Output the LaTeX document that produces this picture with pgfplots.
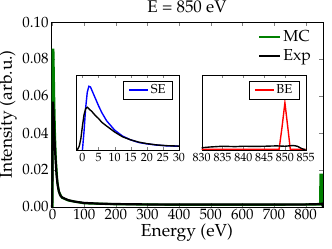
\documentclass[border=0pt]{standalone}
\usepackage[T1]{fontenc}
\usepackage{mathpazo}
\usepackage{pgfplots}
\pgfplotsset{compat=1.18}
\definecolor{mplgreen}{rgb}{0,0.5,0}

\pgfplotstableread{
x y
-2 0
-1.5 0.001
-1 0.005
-0.5 0.015
0 0.032
0.5 0.047
1 0.055
1.5 0.057
2 0.055
3 0.051
4 0.046
5 0.042
6 0.037
7.5 0.032
10 0.024
12.5 0.0175
15 0.0135
17.5 0.0105
20 0.0085
23 0.0068
26 0.0058
30 0.0052
40 0.0044
50 0.0037
70 0.0029
100 0.0022
150 0.0018
200 0.0016
300 0.0014
400 0.0013
500 0.0013
600 0.0013
700 0.0013
800 0.0014
830 0.0015
840 0.0016
848 0.0017
852 0.0018
854 0.0008
855 0.0
}\expdata

\pgfplotstableread{
x y
0 0
0.5 0.025
1 0.056
1.5 0.077
2 0.085
2.5 0.084
3 0.079
4 0.069
5 0.059
6 0.050
7.5 0.039
10 0.0265
12.5 0.0185
15 0.0135
17.5 0.0100
20 0.0082
23 0.0066
26 0.0056
30 0.0050
}\sedata

\pgfplotstableread{
x y
0 0
0.3 0.085
2.5 0.085
5 0.059
7.5 0.039
10 0.0265
15 0.0135
20 0.0082
30 0.0050
50 0.0035
100 0.0020
200 0.0015
400 0.0012
600 0.0012
800 0.0013
846 0.0013
847 0.0175
852 0.0175
853 0.0012
855 0.0012
}\mcdata

\pgfplotstableread{
x y
830 0.003
832 0.004
835 0.005
838 0.0045
840 0.005
843 0.0048
845 0.005
848 0.0055
850 0.005
852 0.006
853 0.005
854 0.002
855 0.0
}\beexp

\pgfplotstableread{
x y
830 0.0008
848.6 0.0008
849.3 0.03
850 0.063
850.7 0.03
851.3 0.0008
855 0.0008
}\bemc

\begin{document}
\begin{tikzpicture}
\useasboundingbox (-51bp,-42bp) rectangle (281bp,207bp);
\begin{axis}[at={(0,0)}, anchor=south west, scale only axis,
  width=272bp, height=185bp,
  xmin=-5, xmax=855, ymin=0, ymax=0.1,
  xtick={0,100,200,300,400,500,600,700,800},
  ytick={0,0.02,0.04,0.06,0.08,0.1},
  scaled y ticks=false,
  yticklabel style={/pgf/number format/fixed, /pgf/number format/fixed zerofill, /pgf/number format/precision=2, xshift=1bp},
  tick align=inside, major tick length=4bp,
  ticklabel style={font=\fontsize{15}{16}\selectfont},
  xticklabel style={yshift=1bp},
  xlabel={Energy (eV)}, ylabel={Intensity (arb.u.)},
  label style={font=\fontsize{17.5}{18}\selectfont},
  xlabel style={at={(axis description cs:0.5,-0.1405)}, anchor=center},
  ylabel style={at={(axis description cs:-0.158,0.5)}, anchor=center},
  title={E = 850 eV},
  title style={font=\fontsize{17}{18}\selectfont, inner sep=0pt, at={(axis description cs:0.5,1.018)}, anchor=base},
  legend style={draw=none, fill=none, at={(axis description cs:0.975,0.975)}, anchor=north east,
    font=\fontsize{16}{17}\selectfont, row sep=2bp},
  legend cell align=left,
  legend image code/.code={\draw[#1] (0bp,0bp) -- (21bp,0bp);},
]
\addplot[mplgreen, line width=2.2pt] table[x=x,y=y] {\mcdata};
\addlegendentry{MC}
\addplot[black, line width=2.2pt] table[x=x,y=y] {\expdata};
\addlegendentry{Exp}
\end{axis}

\begin{axis}[at={(25bp,57bp)}, anchor=south west, scale only axis,
  width=103bp, height=75bp,
  axis background/.style={fill=white},
  xmin=-2, xmax=30, ymin=0, ymax=0.1,
  xtick={0,5,10,15,20,25,30}, ytick=\empty,
  tick align=inside, major tick length=3bp,
  ticklabel style={font=\fontsize{12}{13}\selectfont},
  legend style={draw=black, fill=white, at={(axis description cs:0.94,0.924)}, anchor=north east,
    font=\fontsize{13}{14}\selectfont, inner xsep=5bp, inner ysep=2bp},
  legend image code/.code={\draw[#1] (0bp,0bp) -- (19bp,0bp);},
  clip=true,
]
\addplot[blue, line width=1.4pt] table[x=x,y=y] {\sedata};
\addlegendentry{SE}
\addplot[black, line width=1.4pt, forget plot] table[x=x,y=y] {\expdata};
\end{axis}

\begin{axis}[at={(150.7bp,57bp)}, anchor=south west, scale only axis,
  width=104bp, height=75bp,
  axis background/.style={fill=white},
  xmin=830, xmax=855, ymin=0, ymax=0.1,
  xtick={830,835,840,845,850,855}, ytick=\empty,
  xticklabel style={/pgf/number format/1000 sep={}},
  tick align=inside, major tick length=3bp,
  ticklabel style={font=\fontsize{12}{13}\selectfont},
  legend style={draw=black, fill=white, at={(axis description cs:0.94,0.924)}, anchor=north east,
    font=\fontsize{13}{14}\selectfont, inner xsep=5bp, inner ysep=2bp},
  legend image code/.code={\draw[#1] (0bp,0bp) -- (19bp,0bp);},
]
\addplot[red, line width=1.4pt] table[x=x,y=y] {\bemc};
\addlegendentry{BE}
\addplot[black, line width=1.4pt, forget plot] table[x=x,y=y] {\beexp};
\end{axis}
\end{tikzpicture}
\end{document}
